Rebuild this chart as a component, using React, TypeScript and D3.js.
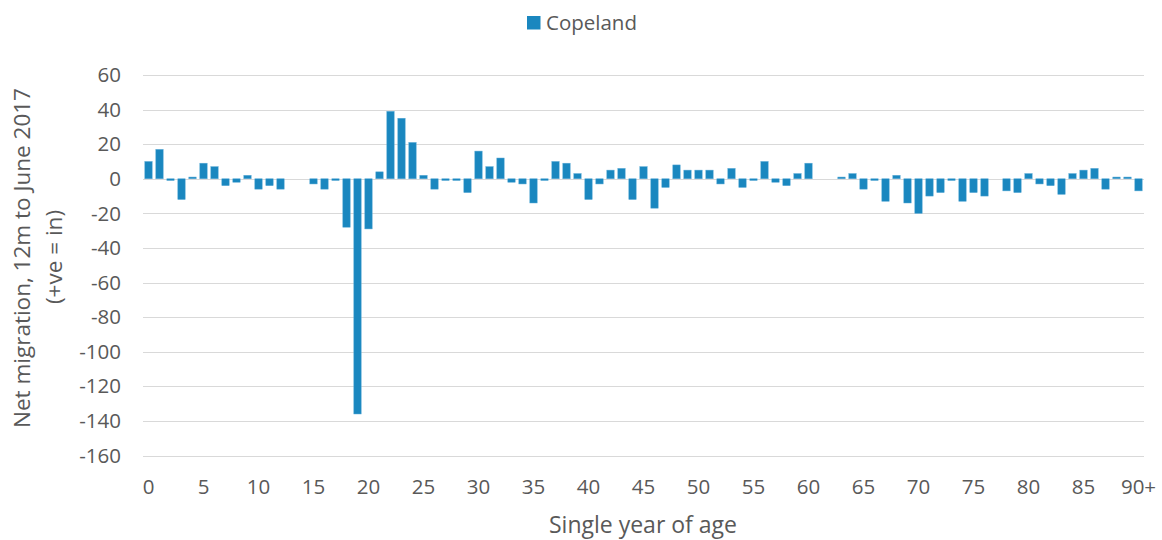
import React from "react";
import * as d3 from "d3";

const categories: string[] = Array.from({ length: 90 }, (_, i) => String(i)).concat(["90+"]);

const values: number[] = [
  10, 17, -1, -12, 1, 9, 7, -4, -2, 2,
  -6, -4, -6, 0, 0, -3, -6, -1, -28, -136,
  -29, 4, 39, 35, 21, 2, -6, -1, -1, -8,
  16, 7, 12, -2, -3, -14, -1, 10, 9, 3,
  -12, -3, 5, 6, -12, 7, -17, -5, 8, 5,
  5, 5, -3, 6, -5, -1, 10, -2, -4, 3,
  9, 0, 0, 1, 3, -6, -1, -13, 2, -14,
  -20, -10, -8, -1, -13, -8, -10, 0, -7, -8,
  3, -3, -4, -9, 3, 5, 6, -6, 1, 1,
  -7,
];

const yTicks: number[] = [60, 40, 20, 0, -20, -40, -60, -80, -100, -120, -140, -160];
const xTickLabels: string[] = ["0", "5", "10", "15", "20", "25", "30", "35", "40", "45", "50", "55", "60", "65", "70", "75", "80", "85", "90+"];

const seriesName = "Copeland";

const W = 1162;
const H = 540;
const FONT = "'Open Sans', sans-serif";
const TEXT = "#595959";
const BAR = "#1a87bf";

export default function App() {
  const x = d3.scaleBand<string>().domain(categories).range([143, 1144]).paddingInner(0.33).paddingOuter(0.165);
  const y = d3.scaleLinear().domain([-160, 60]).range([455.5, 75]);
  const y0 = y(0);

  return (
    <svg
      width={W}
      height={H}
      style={{ position: "absolute", left: 0, top: 0, background: "#fff" }}
      fontFamily={FONT}
    >
      {/* gridlines */}
      {yTicks.map((t) => (
        <line key={"g" + t} x1={143} x2={1144} y1={Math.round(y(t)) + 0.5} y2={Math.round(y(t)) + 0.5} stroke="#d9d9d9" strokeWidth={1.2} />
      ))}
      {/* y tick labels */}
      {yTicks.map((t) => (
        <text key={"yl" + t} x={121} y={y(t)} dy="0.35em" textAnchor="end" fontSize={20.5} fill={TEXT}>
          {t}
        </text>
      ))}
      {/* bars */}
      {values.map((v, i) => {
        const yv = y(v);
        const top = Math.min(yv, y0);
        const h = Math.abs(yv - y0);
        return (
          <rect
            key={"b" + i}
            x={x(categories[i])}
            y={top}
            width={x.bandwidth()}
            height={h}
            fill={BAR}
            stroke="#5aaad6"
            strokeWidth={0.5}
          />
        );
      })}
      {/* x tick labels */}
      {xTickLabels.map((c) => (
        <text key={"xl" + c} x={(x(c) as number) + x.bandwidth() / 2} y={487} dy="0.35em" textAnchor="middle" fontSize={20.5} fill={TEXT}>
          {c}
        </text>
      ))}
      {/* axis titles */}
      <text x={643} y={525} dy="0.35em" textAnchor="middle" fontSize={23} fill={TEXT}>
        Single year of age
      </text>
      <g transform="translate(22,258) rotate(-90)">
        <text x={0} y={0} dy="0.35em" textAnchor="middle" fontSize={22.5} fill={TEXT}>
          Net migration, 12m to June 2017
        </text>
      </g>
      <g transform="translate(54,257) rotate(-90)">
        <text x={0} y={0} dy="0.35em" textAnchor="middle" fontSize={22.5} fill={TEXT}>
          (+ve = in)
        </text>
      </g>
      {/* legend */}
      <rect x={527} y={16} width={13.5} height={13.5} fill={BAR} />
      <text x={546} y={22.5} dy="0.35em" fontSize={20.5} fill={TEXT}>
        {seriesName}
      </text>
    </svg>
  );
}
